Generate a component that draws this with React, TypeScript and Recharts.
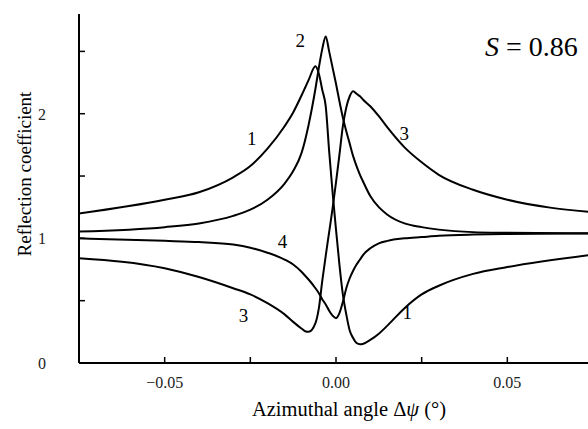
import React from 'react'
import { LineChart, Line, XAxis, YAxis, ReferenceDot } from 'recharts'

// azimuthal angle samples (degrees)
const angles = [
  -0.075, -0.05, -0.04, -0.03, -0.025, -0.02, -0.015, -0.0125, -0.01, -0.009,
  -0.008, -0.006, -0.005, -0.004, -0.003, -0.002, -0.001, 0, 0.001, 0.002,
  0.003, 0.004, 0.005, 0.006, 0.007, 0.008, 0.01, 0.0125, 0.015, 0.02,
  0.025, 0.03, 0.04, 0.05, 0.075,
]

// reflection coefficient, curves 1..4
const curve1 = [
  1.2, 1.31, 1.37, 1.49, 1.58, 1.72, 1.9, 2.01, 2.15, 2.21,
  2.27, 2.38, 2.32, 2.19, 2.06, 1.7, 1.37, 1.07, 0.79, 0.55,
  0.39, 0.26, 0.2, 0.16, 0.15, 0.155, 0.185, 0.235, 0.3, 0.44,
  0.55, 0.62, 0.715, 0.77, 0.87,
]
const curve2 = [
  1.055, 1.09, 1.12, 1.18, 1.23, 1.31, 1.44, 1.54, 1.69, 1.79,
  1.91, 2.2, 2.37, 2.52, 2.62, 2.5, 2.37, 2.24, 2.1, 1.97,
  1.86, 1.76, 1.66, 1.58, 1.51, 1.45, 1.34, 1.25, 1.19, 1.12,
  1.09, 1.07, 1.05, 1.045, 1.04,
]
const curve3 = [
  0.84, 0.76, 0.69, 0.6, 0.55, 0.48, 0.39, 0.33, 0.275, 0.255,
  0.25, 0.32, 0.44, 0.66, 0.86, 1.05, 1.24, 1.45, 1.67, 1.9,
  2.05, 2.14, 2.18, 2.16, 2.14, 2.11, 2.06, 1.98, 1.89, 1.73,
  1.61, 1.51, 1.39, 1.31, 1.21,
]
const curve4 = [
  1.0, 0.98, 0.97, 0.95, 0.925, 0.885, 0.83, 0.79, 0.73, 0.7,
  0.67, 0.6, 0.56, 0.51, 0.47, 0.42, 0.38, 0.36, 0.4, 0.49,
  0.6, 0.68, 0.74, 0.79, 0.83, 0.87, 0.92, 0.96, 0.98, 1.0,
  1.01, 1.02, 1.03, 1.035, 1.04,
]

const xTicks = [-0.075, -0.05, -0.025, 0, 0.025, 0.05, 0.075]
const xLabeled = [-0.05, 0, 0.05]
const yTicks = [0, 0.5, 1, 1.5, 2, 2.5]
const yLabeled = [0, 1, 2]

// curve number annotations (label, angle, coefficient)
const curveLabels: [string, number, number][] = [
  ['2', -0.0104, 2.59],
  ['1', -0.0246, 1.8],
  ['3', 0.0199, 1.84],
  ['4', -0.0156, 0.98],
  ['3', -0.027, 0.38],
  ['1', 0.0208, 0.41],
]

const rows = angles.map((a, i) => ({
  angle: a,
  c1: curve1[i],
  c2: curve2[i],
  c3: curve3[i],
  c4: curve4[i],
}))

const serif = '"Liberation Serif", "Times New Roman", Times, serif'
const TICK = 6

const fmtX = (v: number) => (v === 0 ? '0.00' : (v < 0 ? '\u2212' : '') + Math.abs(v).toFixed(2))

const BottomTick = ({ x, y, payload }: any) => (
  <g>
    <line x1={x} y1={y} x2={x} y2={y - TICK} stroke="#000" strokeWidth={1.5} />
    {xLabeled.includes(payload.value) && (
      <text x={x} y={y + 25} textAnchor="middle" fontSize={16} fontFamily={serif} fill="#222">
        {fmtX(payload.value)}
      </text>
    )}
  </g>
)

const TopTick = ({ x, y }: any) => (
  <line x1={x} y1={y} x2={x} y2={y + TICK} stroke="#000" strokeWidth={1.5} />
)

const LeftTick = ({ x, y, payload }: any) => (
  <g>
    <line x1={x} y1={y} x2={x + TICK} y2={y} stroke="#000" strokeWidth={1.5} />
    {yLabeled.includes(payload.value) && (
      <text x={x - 37} y={y + 6} textAnchor="middle" fontSize={16} fontFamily={serif} fill="#222">
        {payload.value}
      </text>
    )}
  </g>
)

const RightTick = ({ x, y }: any) => (
  <line x1={x} y1={y} x2={x - TICK} y2={y} stroke="#000" strokeWidth={1.5} />
)

export default function App() {
  return (
    <div
      style={{
        position: 'fixed',
        left: 0,
        top: 0,
        width: 588,
        height: 429,
        overflow: 'hidden',
        background: '#fff',
      }}
    >
      <LineChart width={600} height={429} data={rows} margin={{ top: 14, right: 0, bottom: 0, left: 0 }}>
        <XAxis
          xAxisId="bottom"
          type="number"
          dataKey="angle"
          domain={[-0.075, 0.075]}
          ticks={xTicks}
          interval={0}
          height={66}
          tickSize={0}
          tickMargin={0}
          tickLine={false}
          axisLine={{ stroke: '#000', strokeWidth: 2 }}
          tick={BottomTick}
        />
        <XAxis
          xAxisId="top"
          orientation="top"
          type="number"
          dataKey="angle"
          domain={[-0.075, 0.075]}
          ticks={xTicks}
          interval={0}
          height={0}
          tickSize={0}
          tickMargin={0}
          tickLine={false}
          axisLine={{ stroke: '#000', strokeWidth: 2 }}
          tick={TopTick}
        />
        <YAxis
          yAxisId="left"
          type="number"
          domain={[0, 2.8]}
          ticks={yTicks}
          interval={0}
          width={79}
          tickSize={0}
          tickMargin={0}
          tickLine={false}
          axisLine={{ stroke: '#000', strokeWidth: 2 }}
          tick={LeftTick}
        />
        <YAxis
          yAxisId="right"
          orientation="right"
          type="number"
          domain={[0, 2.8]}
          ticks={yTicks}
          interval={0}
          width={7}
          tickSize={0}
          tickMargin={0}
          tickLine={false}
          axisLine={{ stroke: '#000', strokeWidth: 2 }}
          tick={RightTick}
        />
        {['c1', 'c2', 'c3', 'c4'].map((k) => (
          <Line
            key={k}
            xAxisId="bottom"
            yAxisId="left"
            type="monotone"
            dataKey={k}
            stroke="#000"
            strokeWidth={2}
            dot={false}
            activeDot={false}
            isAnimationActive={false}
          />
        ))}
        {curveLabels.map(([t, a, c], i) => (
          <ReferenceDot
            key={i}
            xAxisId="bottom"
            yAxisId="left"
            x={a}
            y={c}
            r={0}
            fill="none"
            stroke="none"
            label={{ value: t, position: 'center', fontSize: 19, fill: '#000', fontFamily: serif }}
          />
        ))}
      </LineChart>
      <svg
        width={588}
        height={429}
        style={{ position: 'absolute', left: 0, top: 0, pointerEvents: 'none' }}
      >
        <text
          x={24}
          y={174}
          transform="rotate(-90 24 174)"
          textAnchor="middle"
          dominantBaseline="central"
          fontSize={19}
          fontFamily={serif}
          fill="#000"
        >
          Reflection coefficient
        </text>
        <text x={349} y={416} textAnchor="middle" fontSize={20.5} fontFamily={serif} fill="#000">
          Azimuthal angle {'\u0394'}
          <tspan fontStyle="italic">{'\u03c8'}</tspan> ({'\u00b0'})
        </text>
        <text x={485} y={56} fontSize={28} fontFamily={serif} fill="#000">
          <tspan fontStyle="italic">S</tspan> = 0.86
        </text>
      </svg>
    </div>
  )
}
